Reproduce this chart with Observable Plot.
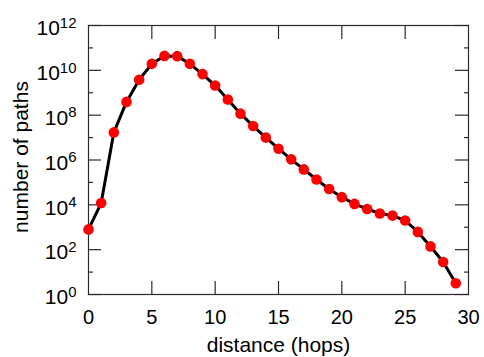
<!DOCTYPE html>
<html><head><meta charset="utf-8">
<script src="https://cdn.jsdelivr.net/npm/d3@7"></script>
<script src="https://cdn.jsdelivr.net/npm/@observablehq/plot@0.6"></script>
<style>
html,body{margin:0;padding:0;background:#fff;}
#chart svg{display:block;}
</style>
</head><body><div id="chart"></div>
<script>
const hops = [0,1,2,3,4,5,6,7,8,9,10,11,12,13,14,15,16,17,18,19,20,21,22,23,24,25,26,27,28,29];
const paths = [8e2,1.2e4,1.7e7,3.9e8,3.8e9,1.95e10,4.4e10,4.3e10,1.95e10,6.8e9,2.1e9,5e8,1.17e8,3.3e7,1.0e7,3.2e6,1.07e6,3.8e5,1.35e5,5.1e4,2.2e4,1.1e4,6.5e3,4.1e3,3.3e3,2.0e3,6.2e2,1.4e2,28,3.2];
const xTickLabels = [0,5,10,15,20,25,30];
const xInnerTicks = [5,10,15,20,25];
const yMajorExponents = [0,2,4,6,8,10,12];
const yMinorExponents = [1,3,5,7,9,11];
const xTitle = "distance (hops)";
const yTitle = "number of paths";

const data = hops.map((h, i) => ({hops: h, paths: paths[i]}));
const yMajor = yMajorExponents.map(e => Math.pow(10, e));
const yMinor = yMinorExponents.map(e => Math.pow(10, e));
const frameColor = "#2a2a2a";

const chart = Plot.plot({
  width: 484,
  height: 357,
  marginLeft: 88,
  marginRight: 16,
  marginTop: 25,
  marginBottom: 63,
  style: {fontFamily: "'Liberation Sans', Arial, sans-serif", color: "#000", background: "#fff"},
  x: {domain: [0, 30]},
  y: {type: "log", domain: [1, 1e12]},
  marks: [
    Plot.frame({stroke: frameColor, strokeWidth: 1.2}),
    // inward ticks
    Plot.axisY(yMajor, {anchor: "left", tickSize: -13, tickFormat: () => null, label: null, stroke: frameColor, strokeWidth: 1.2}),
    Plot.axisY(yMinor, {anchor: "left", tickSize: -5, tickFormat: () => null, label: null, stroke: frameColor, strokeWidth: 1.2}),
    Plot.axisY(yMajor, {anchor: "right", tickSize: -14, tickFormat: () => null, label: null, stroke: frameColor, strokeWidth: 1.2}),
    Plot.axisY(yMinor, {anchor: "right", tickSize: -5, tickFormat: () => null, label: null, stroke: frameColor, strokeWidth: 1.2}),
    Plot.axisX(xInnerTicks, {anchor: "bottom", tickSize: -13, tickFormat: () => null, label: null, stroke: frameColor, strokeWidth: 1.2}),
    Plot.axisX(xInnerTicks, {anchor: "top", tickSize: -13, tickFormat: () => null, label: null, stroke: frameColor, strokeWidth: 1.2}),
    // tick labels
    Plot.axisY(yMajor, {anchor: "left", tickSize: 0, tickPadding: 12, dy: 3, fontSize: 21,
      tickFormat: d => "10^" + Math.round(Math.log10(d)), label: null}),
    Plot.axisX(xTickLabels, {anchor: "bottom", tickSize: 0, tickPadding: 15, fontSize: 20, label: null}),
    // titles
    Plot.text([yTitle], {text: d => d, frameAnchor: "left", textAnchor: "middle", rotate: -90, lineAnchor: "top", dx: -75, dy: -3, fontSize: 21}),
    Plot.text([xTitle], {text: d => d, frameAnchor: "bottom", textAnchor: "middle", lineAnchor: "top", dy: 43, fontSize: 21}),
    // data
    Plot.line(data, {x: "hops", y: "paths", stroke: "#000", strokeWidth: 3}),
    Plot.dot(data, {x: "hops", y: "paths", r: 5.3, fill: "#ff0000", stroke: "none"})
  ]
});

// superscript exponents on y tick labels
d3.select(chart).selectAll('g[aria-label="y-axis tick label"] text').each(function() {
  const t = this.textContent;
  if (!t.includes("^")) return;
  const [base, exp] = t.split("^");
  const sel = d3.select(this);
  sel.text(base);
  sel.append("tspan").attr("dy", "-0.5em").attr("font-size", "15px").text(exp);
});

document.getElementById("chart").appendChild(chart);
</script>
</body></html>
